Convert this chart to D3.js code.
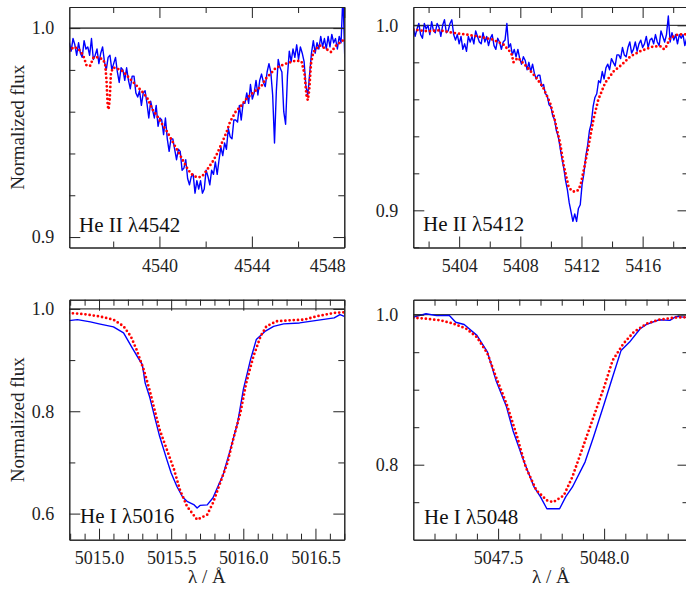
<!DOCTYPE html>
<html><head><meta charset="utf-8">
<script src="https://cdn.jsdelivr.net/npm/d3@7"></script>
<style>
body{margin:0;background:#fff}
</style>
</head><body>
<svg id="c" width="686" height="589" xmlns="http://www.w3.org/2000/svg" font-family="Liberation Serif"></svg>
<script>
// ---------- DATA ----------
// Panel 1: He II 4542
const p1ObsStart = 4536.10, p1ObsStep = 0.08; // spectrum sampling grid
const p1ObsFlux = [
 .993,.989,.995,.992,.987,.993,.988,.986,.994,.990,
 .991,.987,.995,.985,.987,.990,.983,.988,.991,.984,
 .980,.986,.987,.980,.983,.986,.979,.974,.981,.980,
 .975,.981,.975,.971,.977,.977,.969,.967,.970,.963,
 .969,.970,.964,.957,.965,.961,.957,.963,.953,.957,
 .956,.949,.957,.947,.941,.947,.947,.942,.937,.942,
 .941,.932,.933,.937,.928,.925,.929,.930,.921,.927,
 .923,.927,.921,.923,.932,.929,.925,.932,.930,.936,
 .930,.937,.943,.939,.945,.942,.952,.948,.947,.956,
 .956,.955,.963,.956,.964,.964,.969,.964,.973,.966,
 .969,.975,.968,.975,.978,.974,.972,.979,.983,.979,
 .968,.945,.970,.985,.981,.979,.960,.954,.977,.989,
 .984,.990,.986,.992,.985,.991,.988,.984,.972,.968,
 .978,.988,.994,.988,.993,.990,.996,.991,.995,.990,
 .996,.991,.997,.993,.995,.990,.996,.993,1.016,.986];
const p1ModelWave = [4536.10,4536.30,4536.50,4536.70,4536.85,4537.00,4537.15,4537.35,4537.55,4537.65,4537.71,4537.76,4537.80,4537.85,4537.90,4537.98,4538.10,4538.40,4538.70,4539.00,4539.30,4539.50,4539.70,4539.90,4540.10,4540.30,4540.50,4540.80,4541.05,4541.25,4541.45,4541.65,4541.85,4542.05,4542.30,4542.50,4542.70,4542.90,4543.05,4543.30,4543.55,4543.75,4544.15,4544.40,4544.60,4544.80,4545.04,4545.48,4545.91,4546.15,4546.28,4546.36,4546.42,4546.48,4546.56,4546.66,4546.93,4547.22,4547.43,4547.65,4547.94,4548.00];
const p1ModelFlux = [0.989,0.991,0.990,0.987,0.982,0.982,0.986,0.986,0.985,0.983,0.975,0.963,0.961,0.966,0.978,0.981,0.981,0.9795,0.976,0.9726,0.969,0.966,0.961,0.958,0.9543,0.951,0.947,0.941,0.936,0.932,0.9295,0.9285,0.929,0.932,0.936,0.940,0.945,0.950,0.955,0.960,0.963,0.966,0.970,0.972,0.9758,0.978,0.981,0.983,0.9845,0.984,0.978,0.968,0.9655,0.970,0.983,0.9885,0.9917,0.990,0.9885,0.9917,0.9941,0.994];

// Panel 2: He II 5412
const p2ObsStart = 5401.0, p2ObsStep = 0.12;
const p2ObsFlux = [
 .999,.994,.998,1.001,.995,.993,1.001,.998,1.000,.995,
 1.002,.997,.996,1.001,.999,.994,1.000,1.003,.996,.997,
 1.001,1.003,.995,.992,.995,.990,.994,.987,.990,.986,
 .994,.991,.994,.990,.997,.994,.991,.990,.996,.991,
 .994,.989,.993,.995,.989,.987,.993,.991,.987,.991,
 .992,1.001,.988,.990,.984,.987,.983,.987,.982,.979,
 .983,.981,.976,.980,.975,.979,.974,.971,.973,.973,
 .967,.968,.963,.962,.957,.956,.951,.949,.943,.940,
 .934,.928,.923,.916,.911,.904,.899,.894,.898,.894,
 .901,.903,.914,.920,.929,.935,.943,.947,.956,.961,
 .963,.970,.969,.975,.971,.977,.979,.976,.982,.980,
 .978,.984,.984,.982,.988,.984,.983,.988,.991,.985,
 .987,.991,.986,.990,.992,.988,.990,.994,.988,.992,
 .993,.990,.995,.991,.989,.997,.994,.991,.995,1.005,
 .991,.996,.992,.995,.990,.995,.993,.995,.989,.993];
const p2ModelWave = [5401.0,5401.9,5402.75,5403.6,5404.5,5405.4,5406.2,5406.9,5407.3,5407.45,5407.55,5407.65,5407.85,5408.4,5409.05,5409.5,5409.95,5410.25,5410.6,5410.85,5411.15,5411.35,5411.58,5411.8,5411.95,5412.2,5412.5,5412.78,5413.1,5413.55,5414.1,5414.65,5415.2,5415.85,5416.7,5417.2,5417.4,5417.55,5417.8,5418.3,5419.0];
const p2ModelFlux = [0.9977,0.9968,0.9973,0.9959,0.995,0.9937,0.9923,0.9896,0.986,0.984,0.980,0.981,0.9824,0.9778,0.9716,0.9662,0.958,0.949,0.9364,0.9238,0.913,0.9105,0.910,0.911,0.914,0.9238,0.9364,0.949,0.9598,0.9689,0.9751,0.9788,0.9832,0.986,0.9886,0.9886,0.987,0.9886,0.9932,0.995,0.9952];

// Panel 3: He I 5016
const p3ObsWave = [5014.79,5014.85,5014.94,5015.00,5015.10,5015.17,5015.23,5015.27,5015.30,5015.32,5015.35,5015.39,5015.42,5015.47,5015.50,5015.54,5015.58,5015.61,5015.66,5015.68,5015.70,5015.75,5015.79,5015.83,5015.86,5015.91,5015.96,5016.00,5016.05,5016.09,5016.15,5016.21,5016.28,5016.39,5016.51,5016.63,5016.67,5016.70];
const p3ObsFlux = [0.977,0.979,0.9746,0.9707,0.9648,0.953,0.924,0.905,0.891,0.855,0.829,0.784,0.751,0.7055,0.6795,0.653,0.632,0.624,0.617,0.611,0.616,0.617,0.631,0.657,0.676,0.725,0.777,0.842,0.901,0.94,0.956,0.966,0.9707,0.9726,0.9777,0.9824,0.9889,0.9856];
const p3ModelWave = [5014.79,5014.89,5015.00,5015.10,5015.17,5015.22,5015.26,5015.31,5015.35,5015.39,5015.42,5015.47,5015.52,5015.56,5015.61,5015.68,5015.75,5015.79,5015.84,5015.89,5015.93,5015.98,5016.02,5016.07,5016.12,5016.16,5016.23,5016.32,5016.42,5016.51,5016.63,5016.70];
const p3ModelFlux = [0.992,0.990,0.9856,0.979,0.966,0.9465,0.9205,0.881,0.842,0.797,0.764,0.725,0.686,0.647,0.614,0.588,0.598,0.621,0.66,0.699,0.745,0.797,0.855,0.907,0.9465,0.966,0.9758,0.9777,0.979,0.9856,0.9922,0.9934];

// Panel 4: He I 5048
const p4ObsWave = [5047.10,5047.16,5047.21,5047.27,5047.30,5047.34,5047.40,5047.45,5047.49,5047.54,5047.57,5047.62,5047.67,5047.70,5047.73,5047.79,5047.82,5047.85,5047.91,5047.95,5048.00,5048.04,5048.08,5048.12,5048.17,5048.20,5048.26,5048.31,5048.34,5048.40];
const p4ObsFlux = [0.9968,1.0013,0.9987,0.999,0.990,0.987,0.9724,0.950,0.9124,0.8768,0.8457,0.8057,0.770,0.757,0.7413,0.7413,0.7577,0.770,0.8035,0.837,0.881,0.917,0.9524,0.9635,0.9813,0.987,0.9933,0.9924,0.9977,0.996];
const p4ModelWave = [5047.10,5047.16,5047.23,5047.29,5047.35,5047.40,5047.45,5047.49,5047.54,5047.59,5047.63,5047.68,5047.73,5047.76,5047.81,5047.85,5047.90,5047.95,5048.00,5048.04,5048.09,5048.14,5048.20,5048.26,5048.33,5048.40];
const p4ModelFlux = [0.996,0.9947,0.9924,0.988,0.9813,0.970,0.948,0.917,0.881,0.837,0.797,0.766,0.7524,0.750,0.759,0.7835,0.8235,0.8635,0.9035,0.939,0.961,0.9768,0.988,0.9933,0.996,0.9968];

// Tick values
const p1XMajor = [4540,4544,4548], p1XMinor = [4538,4542,4546];
const p1YMajor = [0.9,1.0], p1YMinor = [0.92,0.94,0.96,0.98];
const p2XMajor = [5404,5408,5412,5416], p2XMinor = [5402,5406,5410,5414,5418];
const p2YMajor = [0.9,1.0], p2YMinor = [0.88,0.92,0.94,0.96,0.98];
const p3XMajor = [5015.0,5015.5,5016.0,5016.5];
const p3XMinor = [5014.8,5014.9,5015.1,5015.2,5015.3,5015.4,5015.6,5015.7,5015.8,5015.9,5016.1,5016.2,5016.3,5016.4,5016.6,5016.7];
const p3YMajor = [0.6,0.8,1.0], p3YMinor = [0.7,0.9];
const p4XMajor = [5047.5,5048.0];
const p4XMinor = [5047.2,5047.3,5047.4,5047.6,5047.7,5047.8,5047.9,5048.1,5048.2,5048.3];
const p4YMajor = [0.8,1.0], p4YMinor = [0.75,0.85,0.9,0.95];

const labels = ["He II \u03bb4542","He II \u03bb5412","He I \u03bb5016","He I \u03bb5048"];
const yTitle = "Normalized flux", xTitle = "\u03bb / \u00c5";

// ---------- DRAW ----------
const FONT = "Liberation Serif";
const svg = d3.select("#c");
const pairsGrid = (start, step, flux) => flux.map((f, i) => [start + step * i, f]);
const pairs = (w, f) => w.map((v, i) => [v, f[i]]);

const panels = [
 {id:1, left:69.3, right:344.3, top:7, bottom:247.5, xd:[4536.1,4548.0], yd:[0.895,1.0101],
  obs:pairsGrid(p1ObsStart,p1ObsStep,p1ObsFlux), model:pairs(p1ModelWave,p1ModelFlux),
  xMaj:p1XMajor, xMin:p1XMinor, yMaj:p1YMajor, yMin:p1YMinor, xf:d3.format("d"), yf:d3.format(".1f"),
  label:labels[0], lx:79, ly:232, refColor:"#555", refW:1.6, lastEnd:true},
 {id:2, left:413.3, right:688.5, top:7, bottom:247.5, xd:[5401.0,5419.0], yd:[0.8799,1.0099],
  obs:pairsGrid(p2ObsStart,p2ObsStep,p2ObsFlux), model:pairs(p2ModelWave,p2ModelFlux),
  xMaj:p2XMajor, xMin:p2XMinor, yMaj:p2YMajor, yMin:p2YMinor, xf:d3.format("d"), yf:d3.format(".1f"),
  label:labels[1], lx:423, ly:231, refColor:"#111", refW:1},
 {id:3, left:69.3, right:344.3, top:299.7, bottom:539.7, xd:[5014.794,5016.70], yd:[0.549,1.018],
  obs:pairs(p3ObsWave,p3ObsFlux), model:pairs(p3ModelWave,p3ModelFlux),
  xMaj:p3XMajor, xMin:p3XMinor, yMaj:p3YMajor, yMin:p3YMinor, xf:d3.format(".1f"), yf:d3.format(".1f"),
  label:labels[2], lx:80, ly:523, refColor:"#111", refW:1},
 {id:4, left:413.3, right:688.5, top:299.7, bottom:539.7, xd:[5047.10,5048.398], yd:[0.70,1.02],
  obs:pairs(p4ObsWave,p4ObsFlux), model:pairs(p4ModelWave,p4ModelFlux),
  xMaj:p4XMajor, xMin:p4XMinor, yMaj:p4YMajor, yMin:p4YMinor, xf:d3.format(".1f"), yf:d3.format(".1f"),
  label:labels[3], lx:424, ly:524, refColor:"#111", refW:1}
];

const defs = svg.append("defs");
function styleAxis(sel){
  sel.attr("font-family", FONT).attr("font-size", 18);
  sel.selectAll("path,line").attr("stroke","#222").attr("stroke-width",1);
  sel.selectAll("text").attr("fill","#222").attr("font-family", FONT);
}

panels.forEach(cfg => {
  const x = d3.scaleLinear().domain(cfg.xd).range([cfg.left, cfg.right]);
  const y = d3.scaleLinear().domain(cfg.yd).range([cfg.bottom, cfg.top]);
  const cid = "clip" + cfg.id;
  defs.append("clipPath").attr("id", cid).append("rect")
    .attr("x", cfg.left).attr("y", cfg.top)
    .attr("width", cfg.right - cfg.left).attr("height", cfg.bottom - cfg.top);
  const g = svg.append("g");
  g.append("line").attr("x1", cfg.left).attr("x2", cfg.right)
    .attr("y1", y(1)).attr("y2", y(1)).attr("stroke", cfg.refColor).attr("stroke-width", cfg.refW);
  const line = d3.line().x(d => x(d[0])).y(d => y(d[1]));
  const plot = g.append("g").attr("clip-path", `url(#${cid})`);
  plot.append("path").datum(cfg.obs).attr("d", line).attr("fill","none")
    .attr("stroke","#0000ff").attr("stroke-width",1.4).attr("stroke-linejoin","round");
  plot.append("path").datum(cfg.model).attr("d", line).attr("fill","none")
    .attr("stroke","#ff0000").attr("stroke-width",2.8).attr("stroke-dasharray","0 4.2")
    .attr("stroke-linecap","round");

  const bMaj = g.append("g").attr("transform",`translate(0,${cfg.bottom})`)
    .call(d3.axisBottom(x).tickValues(cfg.xMaj).tickSize(-11).tickSizeOuter(0).tickPadding(11.5).tickFormat(cfg.xf));
  styleAxis(bMaj);
  if (cfg.lastEnd) {
    bMaj.selectAll(".tick text").filter(d => d === cfg.xMaj[cfg.xMaj.length-1]).attr("text-anchor","end").attr("x", 1);
  }
  styleAxis(g.append("g").attr("transform",`translate(0,${cfg.bottom})`)
    .call(d3.axisBottom(x).tickValues(cfg.xMin).tickSize(-6).tickSizeOuter(0).tickFormat("")));
  styleAxis(g.append("g").attr("transform",`translate(0,${cfg.top})`)
    .call(d3.axisTop(x).tickValues(cfg.xMaj).tickSize(-11).tickSizeOuter(0).tickFormat("")));
  styleAxis(g.append("g").attr("transform",`translate(0,${cfg.top})`)
    .call(d3.axisTop(x).tickValues(cfg.xMin).tickSize(-6).tickSizeOuter(0).tickFormat("")));
  styleAxis(g.append("g").attr("transform",`translate(${cfg.left},0)`)
    .call(d3.axisLeft(y).tickValues(cfg.yMaj).tickSize(-11).tickSizeOuter(0).tickPadding(15).tickFormat(cfg.yf)));
  styleAxis(g.append("g").attr("transform",`translate(${cfg.left},0)`)
    .call(d3.axisLeft(y).tickValues(cfg.yMin).tickSize(-6).tickSizeOuter(0).tickFormat("")));
  styleAxis(g.append("g").attr("transform",`translate(${cfg.right},0)`)
    .call(d3.axisRight(y).tickValues(cfg.yMaj).tickSize(-11).tickSizeOuter(0).tickFormat("")));
  styleAxis(g.append("g").attr("transform",`translate(${cfg.right},0)`)
    .call(d3.axisRight(y).tickValues(cfg.yMin).tickSize(-6).tickSizeOuter(0).tickFormat("")));

  g.append("text").attr("x", cfg.lx).attr("y", cfg.ly).attr("font-family", FONT)
    .attr("font-size", 21).attr("fill","#111").text(cfg.label);
});

[127.3, 419.7].forEach(cy => {
  svg.append("text").attr("transform", `translate(24,${cy}) rotate(-90)`)
    .attr("text-anchor","middle").attr("font-family", FONT).attr("font-size", 19)
    .attr("fill","#222").text(yTitle);
});
[206.8, 550.9].forEach(cx => {
  svg.append("text").attr("x", cx).attr("y", 583).attr("text-anchor","middle")
    .attr("font-family", FONT).attr("font-size", 19).attr("fill","#222").text(xTitle);
});
</script>
</body></html>
